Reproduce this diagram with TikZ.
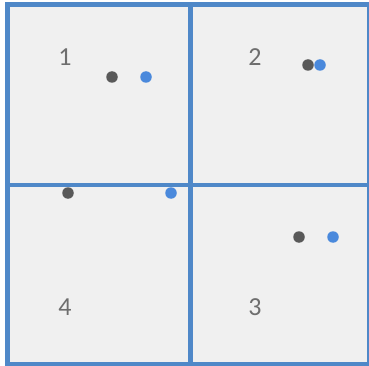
\documentclass[tikz,border=0pt]{standalone}
\usepackage{fontspec}
\setmainfont{Carlito}
\definecolor{frameblue}{HTML}{4F88C8}
\definecolor{dotblue}{HTML}{4A89DC}
\definecolor{dotgray}{HTML}{595959}
\definecolor{labelgray}{HTML}{6E6E6E}
\definecolor{panel}{HTML}{F0F0F0}
\begin{document}
\begin{tikzpicture}[x=1pt,y=-1pt,
  frameline/.style={draw=frameblue,line width=5pt},
  gdot/.style={circle,fill=dotgray,inner sep=0pt,minimum size=11.5pt},
  bdot/.style={circle,fill=dotblue,inner sep=0pt,minimum size=11.5pt},
  lbl/.style={text=labelgray,font=\fontsize{26}{30}\selectfont,inner sep=0pt}]
\useasboundingbox (0,0) rectangle (369,366);
\fill[white] (0,0) rectangle (369,366);
\fill[panel] (7,5) rectangle (369,364);
\draw[frameline] (7,5) rectangle (369,364);
\draw[frameline] (190,5) -- (190,364);
\draw[frameline,line width=4.4pt] (7,185) -- (369,185);
\node[lbl] (l1) at (65,57) {1};
\node[lbl] (l2) at (255,57) {2};
\node[lbl] (l3) at (255,307) {3};
\node[lbl] (l4) at (65,307) {4};
\node[gdot] (g1) at (112,77) {};
\node[bdot] (b1) at (146,77) {};
\node[gdot] (g2) at (308,65) {};
\node[bdot] (b2) at (320,65) {};
\node[gdot] (g4) at (68,193) {};
\node[bdot] (b4) at (171,193) {};
\node[gdot] (g3) at (299,237) {};
\node[bdot] (b3) at (333,237) {};
\end{tikzpicture}
\end{document}
